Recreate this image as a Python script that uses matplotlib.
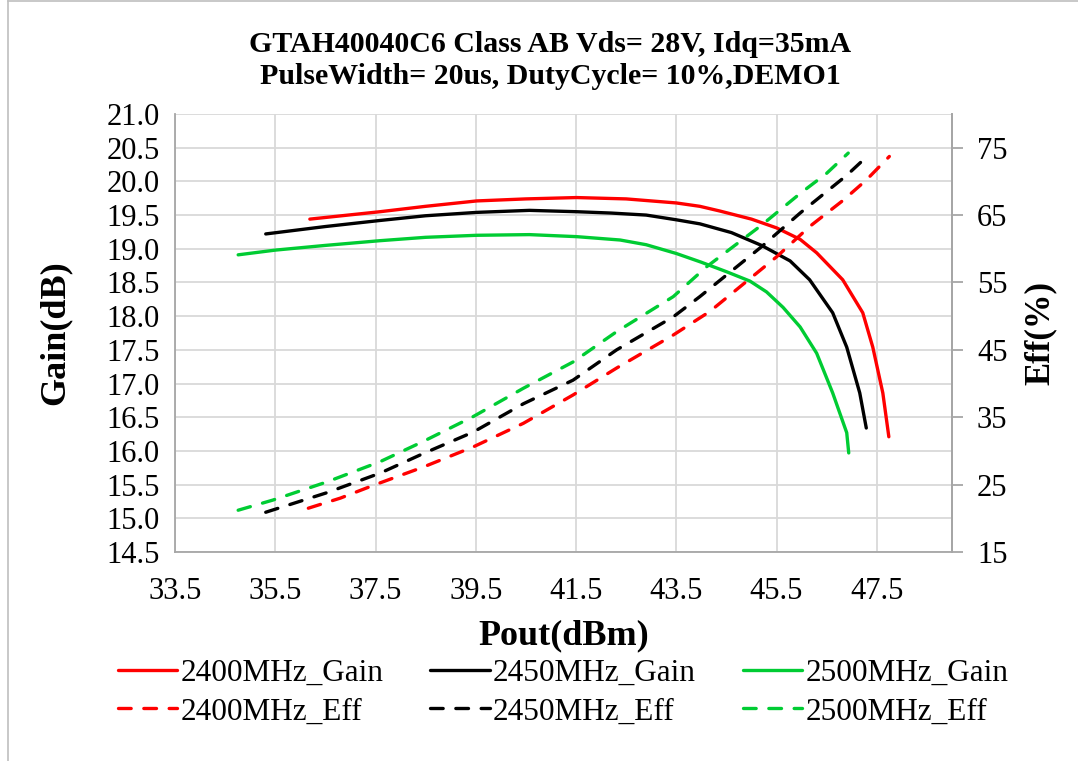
import matplotlib
matplotlib.use('Agg')
import matplotlib.pyplot as plt
from matplotlib.lines import Line2D

plt.rcParams['font.family'] = ['Liberation Serif', 'DejaVu Serif']

# Pout (dBm) / Gain (dB)
pout_g24 = [36.19, 37.59, 38.5, 39.52, 40.5, 41.51, 42.5, 43.5, 43.97, 44.37, 45.0, 45.5,
            45.97, 46.30, 46.82, 47.22, 47.42, 47.62, 47.74]
gain_24 = [19.44, 19.55, 19.63, 19.71, 19.74, 19.76, 19.74, 19.68, 19.63, 19.56, 19.44, 19.31,
           19.14, 18.94, 18.54, 18.05, 17.54, 16.86, 16.21]

pout_g245 = [35.31, 36.5, 37.59, 38.5, 39.52, 40.57, 41.51, 42.2, 42.9, 43.5, 43.97, 44.6,
             45.2, 45.77, 46.16, 46.62, 46.90, 47.16, 47.29]
gain_245 = [19.22, 19.33, 19.42, 19.49, 19.54, 19.57, 19.55, 19.53, 19.50, 19.43, 19.37, 19.24,
            19.05, 18.82, 18.54, 18.05, 17.54, 16.86, 16.34]

pout_g25 = [34.76, 35.5, 36.5, 37.59, 38.5, 39.52, 40.57, 41.51, 42.38, 42.9, 43.5, 44.0,
            44.5, 44.97, 45.3, 45.63, 45.97, 46.3, 46.62, 46.9, 46.94]
gain_25 = [18.91, 18.98, 19.05, 19.12, 19.17, 19.20, 19.21, 19.18, 19.13, 19.06, 18.93, 18.80,
           18.66, 18.52, 18.36, 18.13, 17.84, 17.45, 16.86, 16.27, 15.97]

# Pout (dBm) / Eff (%)
pout_e24 = [36.16, 36.8, 37.46, 38.45, 39.45, 40.45, 41.44, 42.31, 43.44, 44.17, 45.5, 46.16,
            46.83, 47.29, 47.75]
eff_24 = [21.5, 23.0, 24.9, 27.6, 30.6, 34.1, 38.3, 42.3, 47.2, 50.7, 58.8, 63.3, 67.2, 70.2, 73.7]

pout_e245 = [35.31, 36.53, 37.59, 38.45, 39.45, 40.45, 41.44, 42.31, 43.44, 43.97, 45.2, 45.97,
             46.9, 47.29]
eff_245 = [20.9, 23.8, 26.7, 29.6, 32.8, 37.0, 40.5, 45.0, 49.9, 52.9, 60.3, 65.3, 70.9, 73.6]

pout_e25 = [34.76, 35.45, 36.53, 37.59, 38.45, 39.45, 40.45, 41.44, 42.31, 43.44, 44.1, 45.2,
            45.97, 46.5, 46.93]
eff_25 = [21.2, 22.7, 25.4, 28.4, 31.4, 35.1, 39.3, 43.2, 47.7, 52.9, 57.3, 63.5, 68.2, 71.2, 74.2]

red, black, green = '#FF0000', '#000000', '#00CC33'
grid_c = '#D9D9D9'
spine_c = '#A6A6A6'

fig = plt.figure(figsize=(10.78, 7.61), dpi=100)
ax = fig.add_axes([175/1078, 1-552/761, 777/1078, 438/761])
ax2 = ax.twinx()

lw = 2.4
dash = dict(linestyle=(0, (3.8, 3.8)), dash_capstyle='round')
h1, = ax.plot(pout_g24, gain_24, color=red, lw=lw, solid_capstyle='round', label='2400MHz_Gain')
h3, = ax.plot(pout_g245, gain_245, color=black, lw=lw, solid_capstyle='round', label='2450MHz_Gain')
h5, = ax.plot(pout_g25, gain_25, color=green, lw=lw, solid_capstyle='round', label='2500MHz_Gain')
h2, = ax2.plot(pout_e24, eff_24, color=red, lw=lw, label='2400MHz_Eff', **dash)
h4, = ax2.plot(pout_e245, eff_245, color=black, lw=lw, label='2450MHz_Eff', **dash)
h6, = ax2.plot(pout_e25, eff_25, color=green, lw=lw, label='2500MHz_Eff', **dash)

ax.set_xlim(33.5, 49.0)
ax.set_ylim(14.5, 21.0)
ax2.set_ylim(15, 80)
ax.set_xticks([33.5, 35.5, 37.5, 39.5, 41.5, 43.5, 45.5, 47.5])
ax.set_xticklabels(['33.5', '35.5', '37.5', '39.5', '41.5', '43.5', '45.5', '47.5'])
yt = [14.5 + 0.5*i for i in range(14)]
ax.set_yticks(yt)
ax.set_yticklabels(['%.1f' % v for v in yt])
ax2.set_yticks([15, 25, 35, 45, 55, 65, 75])

ax.grid(True, color=grid_c, lw=1.3)
ax.set_axisbelow(True)
for a in (ax, ax2):
    for s in a.spines.values():
        s.set_color(spine_c)
        s.set_linewidth(1.3)
    a.spines['top'].set_visible(False)
ax2.spines['left'].set_visible(False)
ax2.spines['bottom'].set_visible(False)

ax.tick_params(axis='both', length=0, labelsize=22)
ax.tick_params(axis='x', pad=18)
ax.tick_params(axis='y', pad=11)
ax2.tick_params(axis='y', length=8, width=1.3, color=spine_c, labelsize=22, pad=10)

ax.set_xlabel('Pout(dBm)', fontsize=26, fontweight='bold')
ax.xaxis.set_label_coords(0.5, (552-636)/438)
ax.xaxis.label.set_va('center')
ax.set_ylabel('Gain(dB)', fontsize=26, fontweight='bold')
ax.yaxis.set_label_coords((55-175)/777, 0.5)
ax.yaxis.label.set_va('center')
ax2.set_ylabel('Eff(%)', fontsize=25, fontweight='bold', rotation=90)
ax2.yaxis.set_label_coords((1040-175)/777, 0.5)
ax2.yaxis.label.set_va('center')

fig.text(550/1078, 1-45/761, 'GTAH40040C6 Class AB Vds= 28V, Idq=35mA',
         ha='center', va='center', fontsize=21.5, fontweight='bold')
fig.text(550/1078, 1-76/761, 'PulseWidth= 20us, DutyCycle= 10%,DEMO1',
         ha='center', va='center', fontsize=21.5, fontweight='bold')

handles = [h1, h2, h3, h4, h5, h6]
fig.legend(handles=handles, labels=[h.get_label() for h in handles], ncol=3,
           loc='upper center', bbox_to_anchor=(563/1078, 1-659/761), frameon=False,
           fontsize=22.5, handlelength=1.9, handletextpad=0.1, columnspacing=1.5,
           labelspacing=0.3, borderpad=0, borderaxespad=0)

# chart area border
fig.add_artist(Line2D([8/1078, 8/1078], [0, 1-1/761], transform=fig.transFigure,
                      color='#BFBFBF', lw=1.2))
fig.add_artist(Line2D([8/1078, 1], [1-1/761, 1-1/761], transform=fig.transFigure,
                      color='#BFBFBF', lw=1.2))

fig.savefig('out.png', dpi=100)
